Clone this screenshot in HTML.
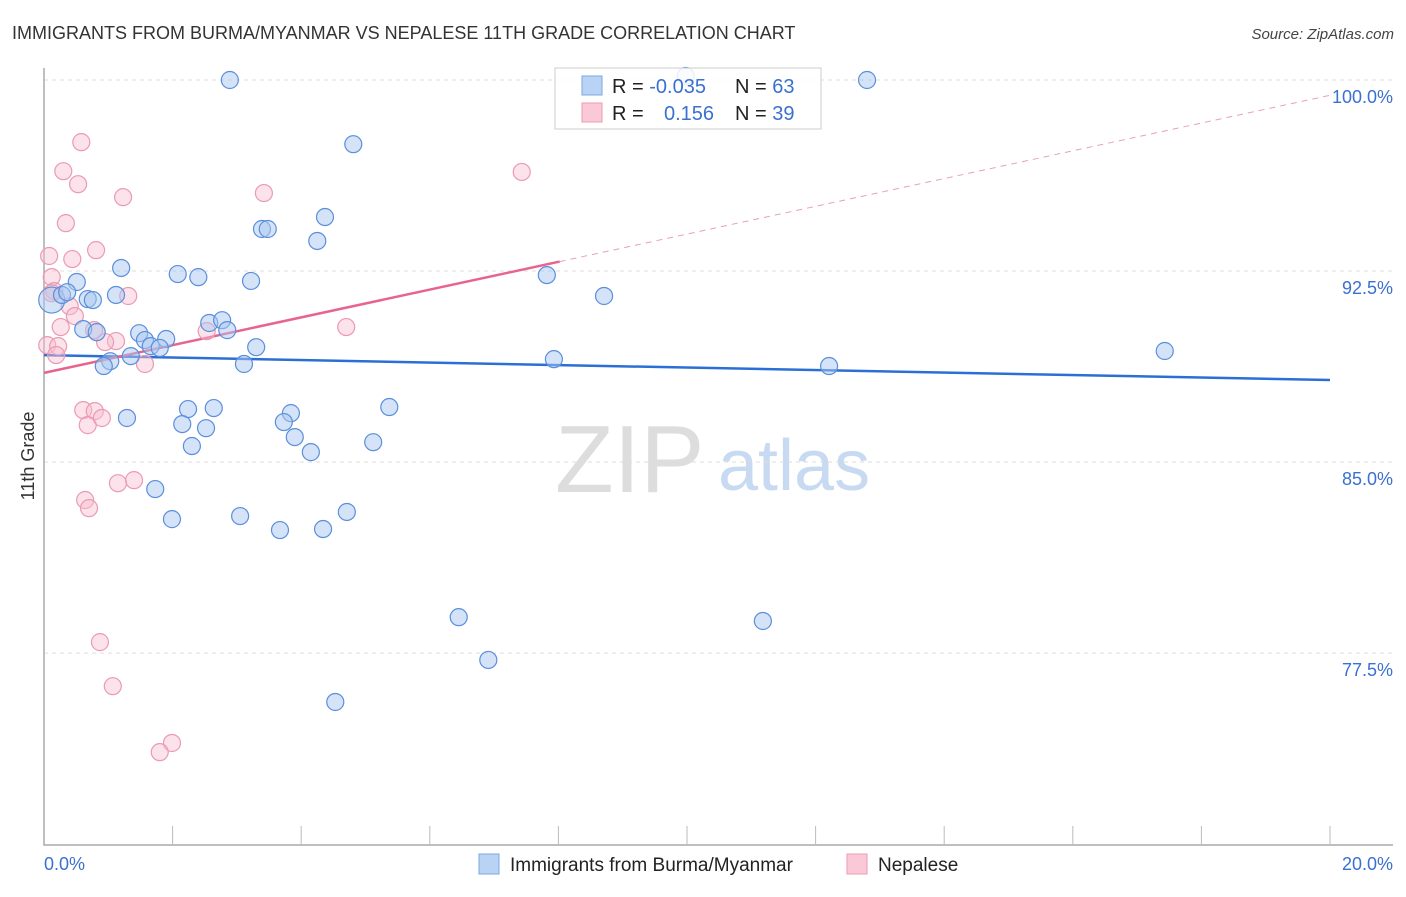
<!DOCTYPE html>
<html><head><meta charset="utf-8"><style>
body{margin:0;background:#fff;font-family:"Liberation Sans",sans-serif}
svg text{font-family:"Liberation Sans",sans-serif}
</style></head><body>
<svg id="c" width="1406" height="892" xmlns="http://www.w3.org/2000/svg">
<text x="12" y="39" font-size="18" fill="#333">IMMIGRANTS FROM BURMA/MYANMAR VS NEPALESE 11TH GRADE CORRELATION CHART</text>
<text x="1394" y="39" font-size="15" fill="#444" font-style="italic" text-anchor="end">Source: ZipAtlas.com</text>
<text x="34" y="456" font-size="18" fill="#333" transform="rotate(-90 34 456)" text-anchor="middle">11th Grade</text>
<g>
<text x="555" y="492" font-size="96" font-family="Liberation Serif" fill="#ddd">ZIP</text>
<text x="718" y="490" font-size="72" fill="#c8daf2">atlas</text>
</g>
<g id="grid"></g><g id="axes"></g><g id="lines"></g><g id="pts"></g>
<g>
<rect x="555" y="68" width="266" height="61" fill="#fff" fill-opacity="0.85" stroke="#ccc"/>
<rect x="582" y="76" width="20" height="19" fill="#b9d3f5" stroke="#7ba7e2"/>
<rect x="582" y="103" width="20" height="19" fill="#fac8d6" stroke="#ee9ab2"/>
<text x="612" y="93" font-size="20" fill="#222">R = <tspan fill="#3a70d0">-0.035</tspan><tspan x="735">N = </tspan><tspan fill="#3a70d0">63</tspan></text>
<text x="612" y="120" font-size="20" fill="#222">R = <tspan x="664" fill="#3a70d0">0.156</tspan><tspan x="735">N = </tspan><tspan fill="#3a70d0">39</tspan></text>
</g>
<g>
<rect x="479" y="854" width="20" height="20" fill="#b9d3f5" stroke="#7ba7e2"/>
<text x="510" y="871" font-size="19" fill="#222">Immigrants from Burma/Myanmar</text>
<rect x="847" y="854" width="20" height="20" fill="#fac8d6" stroke="#ee9ab2"/>
<text x="878" y="871" font-size="19" fill="#222">Nepalese</text>
</g>
</svg>
<script>
const blueX=[2.89,4.81,12.80,9.98,4.37,3.39,3.48,4.25,1.20,2.08,2.40,3.22,7.82,8.71,0.51,0.12,0.28,0.36,0.68,0.76,1.12,0.61,0.82,1.48,1.57,1.90,1.66,1.80,2.57,2.77,2.85,3.30,1.35,1.03,0.93,3.11,7.93,12.21,17.43,1.29,2.24,2.64,2.15,2.52,2.30,3.84,3.73,3.90,4.15,5.37,5.12,1.73,1.99,3.05,3.67,4.34,4.71,6.45,11.18,6.91,4.53];
const blueY=[100.00,97.48,100.00,100.16,94.62,94.15,94.15,93.68,92.62,92.38,92.26,92.11,92.34,91.52,92.07,91.36,91.56,91.67,91.40,91.36,91.56,90.22,90.10,90.06,89.79,89.83,89.55,89.48,90.46,90.57,90.18,89.51,89.16,88.96,88.77,88.85,89.04,88.77,89.36,86.73,87.08,87.12,86.49,86.33,85.63,86.92,86.57,85.98,85.39,87.16,85.78,83.94,82.76,82.88,82.33,82.37,83.04,78.91,78.76,77.23,75.58];
const pinkX=[0.58,0.30,0.53,1.23,3.42,7.43,0.34,0.81,0.08,0.44,0.12,0.16,1.31,0.40,0.48,0.26,0.78,4.70,2.53,1.12,0.95,0.05,0.22,0.19,1.57,0.61,0.79,0.68,0.90,1.40,1.15,0.64,0.70,0.87,1.07,1.99,1.80,0.12];
const pinkY=[97.56,96.42,95.91,95.40,95.56,96.39,94.38,93.32,93.09,92.97,92.26,91.71,91.52,91.12,90.73,90.30,90.18,90.30,90.14,89.75,89.71,89.59,89.55,89.20,88.85,87.04,87.00,86.45,86.73,84.29,84.17,83.51,83.19,77.93,76.20,73.97,73.61,91.63];
const yTicks=[100,92.5,85,77.5];
const yTickLabels=["100.0%","92.5%","85.0%","77.5%"];
const blueTrend=[89.20,88.22];
const pinkTrend=[88.50,99.40];
const pinkSolidEnd=8.02;
const NS="http://www.w3.org/2000/svg";
const X=v=>44+v/20*1286, Y=v=>80+(100-v)*25.47;
function mk(p,t,a){const e=document.createElementNS(NS,t);for(const k in a)e.setAttribute(k,a[k]);document.getElementById(p).appendChild(e);return e;}
yTicks.forEach((t,i)=>{
 const g=mk('grid','line',{x1:44,x2:1393,y1:Y(t),y2:Y(t),stroke:'#ddd','stroke-dasharray':'4,4'});
 
 
 const l=mk('grid','text',{x:1393,y:Y(t)+23,'font-size':18,fill:'#3a70d0','text-anchor':'end'});
 l.textContent=yTickLabels[i];
 
 
});
const ax=mk('axes','path',{d:'M44 68V845H1393',fill:'none',stroke:'#aaa','stroke-width':1.5});


for(let i=1;i<=10;i++){const t=mk('axes','line',{x1:X(i*2),x2:X(i*2),y1:826,y2:845,stroke:'#bbb'});
 
 }
[["0.0%",44,'start'],["20.0%",1393,'end']].forEach(a=>{const t=mk('axes','text',{x:a[1],y:870,'font-size':18,fill:'#3a70d0','text-anchor':a[2]});t.textContent=a[0];
 
 });
const bl=mk('lines','line',{x1:X(0),y1:Y(blueTrend[0]),x2:X(20),y2:Y(blueTrend[1]),stroke:'#2b6fd6','stroke-width':2.5});


const pAt=v=>pinkTrend[0]+(pinkTrend[1]-pinkTrend[0])*v/20;
const pl=mk('lines','line',{x1:X(0),y1:Y(pinkTrend[0]),x2:X(pinkSolidEnd),y2:Y(pAt(pinkSolidEnd)),stroke:'#e8638d','stroke-width':2.5});


const pd=mk('lines','line',{x1:X(pinkSolidEnd),y1:Y(pAt(pinkSolidEnd)),x2:X(20),y2:Y(pinkTrend[1]),stroke:'#e8a0b8','stroke-width':1,'stroke-dasharray':'6,5'});


pinkX.forEach((x,i)=>{const c=mk('pts','circle',{cx:X(x),cy:Y(pinkY[i]),r:8.5,fill:'rgba(248,190,208,0.45)',stroke:'#eb9ab3','stroke-width':1.2});
 
 });
blueX.forEach((x,i)=>{const c=mk('pts','circle',{cx:X(x),cy:Y(blueY[i]),r:(i==15?13:8.5),fill:'rgba(170,200,240,0.5)',stroke:'#5b8fdc','stroke-width':1.2});
 
 });
</script>
</body></html>
